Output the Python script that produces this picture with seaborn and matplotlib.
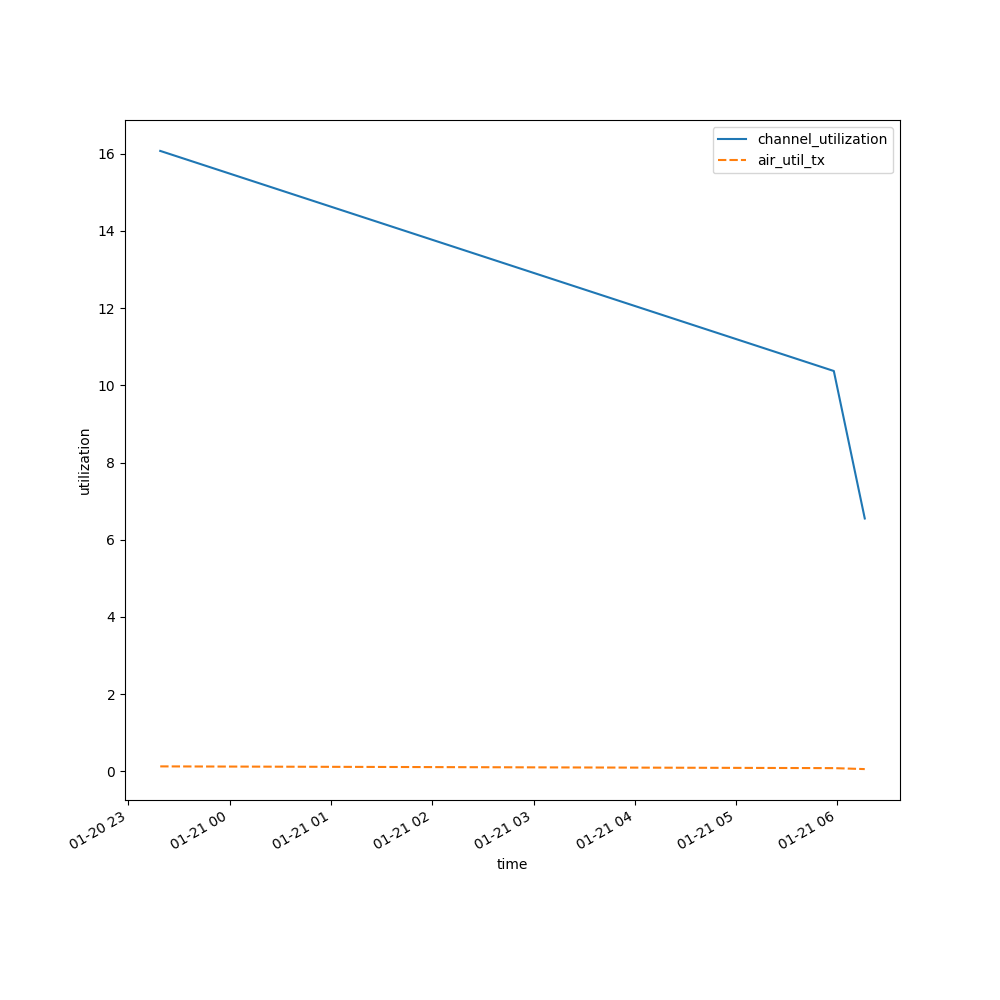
import matplotlib
matplotlib.use("Agg")
import matplotlib.pyplot as plt
import seaborn as sns
import pandas as pd

# readings
times = pd.to_datetime(["2025-01-20 23:18:55", "2025-01-21 05:57:50", "2025-01-21 06:16:10"])
channel_utilization = [16.07, 10.37, 6.55]
air_util_tx = [0.13, 0.085, 0.06]

df = pd.DataFrame({"channel_utilization": channel_utilization,
                   "air_util_tx": air_util_tx}, index=times)
df.index.name = "time"

fig, ax = plt.subplots(figsize=(10, 10))
sns.lineplot(data=df, ax=ax)
ax.set_xlabel("time")
ax.set_ylabel("utilization")
fig.autofmt_xdate()

plt.savefig("out.png", dpi=100)
